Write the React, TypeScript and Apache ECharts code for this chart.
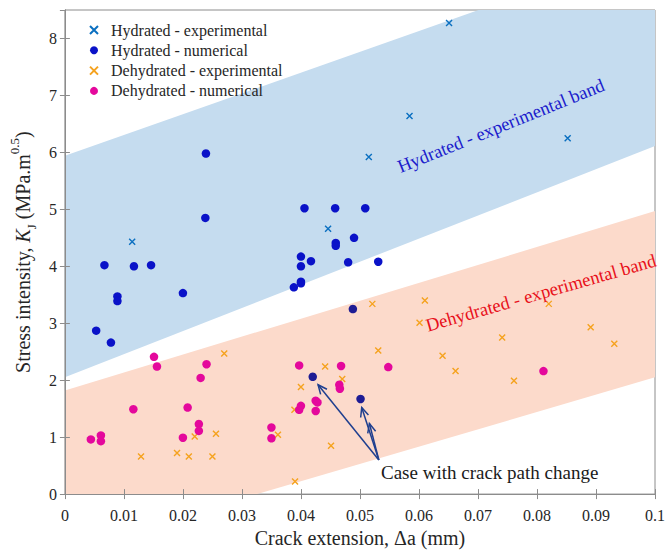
import React, { useEffect, useRef } from "react";
import * as echarts from "echarts";

const SERIF = "Liberation Serif";

const hydratedExperimental: number[][] = [
  [0.0114, 4.43], [0.0446, 4.66], [0.0515, 5.92], [0.0584, 6.64], [0.0651, 8.27], [0.0852, 6.25],
];

const hydratedNumerical: number[][] = [
  [0.0239, 5.98], [0.0238, 4.85], [0.0406, 5.02], [0.0458, 5.02], [0.0509, 5.02], [0.0490, 4.50],
  [0.0459, 4.41], [0.0459, 4.36], [0.0400, 4.17], [0.0417, 4.09], [0.0480, 4.07], [0.0531, 4.08],
  [0.0400, 4.00], [0.0400, 3.73], [0.0400, 3.70], [0.0388, 3.63], [0.0067, 4.02], [0.0117, 4.00],
  [0.0146, 4.02], [0.0089, 3.47], [0.0089, 3.39], [0.0200, 3.53], [0.0053, 2.87], [0.0078, 2.66],
];

const pathChangeCases: number[][] = [
  [0.0488, 3.25], [0.0420, 2.06], [0.0501, 1.67],
];

const dehydratedExperimental: number[][] = [
  [0.0270, 2.47], [0.0129, 0.66], [0.0190, 0.72], [0.0210, 0.66], [0.0220, 1.01], [0.0256, 1.06],
  [0.0250, 0.66], [0.0361, 1.04], [0.0390, 0.22], [0.0389, 1.48], [0.0400, 1.88], [0.0441, 2.24],
  [0.0451, 0.85], [0.0470, 2.02], [0.0521, 3.34], [0.0610, 3.40], [0.0601, 3.01], [0.0820, 3.34],
  [0.0891, 2.93], [0.0931, 2.64], [0.0741, 2.75], [0.0531, 2.52], [0.0640, 2.43], [0.0662, 2.16],
  [0.0761, 1.99],
];

const dehydratedNumerical: number[][] = [
  [0.0044, 0.96], [0.0061, 1.03], [0.0061, 0.93], [0.0116, 1.49], [0.0151, 2.41], [0.0156, 2.24],
  [0.0200, 0.99], [0.0208, 1.52], [0.0227, 1.23], [0.0227, 1.11], [0.0230, 2.04], [0.0240, 2.28],
  [0.0350, 1.17], [0.0350, 0.98], [0.0397, 2.26], [0.0397, 1.48], [0.0400, 1.55], [0.0425, 1.64],
  [0.0428, 1.61], [0.0425, 1.46], [0.0465, 1.92], [0.0466, 1.85], [0.0468, 2.25], [0.0548, 2.23],
  [0.0811, 2.16],
];

const hydratedBand: number[][] = [[0, 5.94], [0.0701, 8.5], [0.1, 8.5], [0.1, 6.11], [0, 2.05]];
const dehydratedBand: number[][] = [[0, 1.82], [0.1, 4.97], [0.1, 2.05], [0.0326, 0], [0, 0]];

const arrowStart = [0.0532, 0.60];
const arrowTargets: number[][] = [[0.0429, 1.92], [0.0503, 1.52], [0.0516, 1.24]];

const xTicks = [0, 0.01, 0.02, 0.03, 0.04, 0.05, 0.06, 0.07, 0.08, 0.09, 0.1];

const CROSS = "path://M0,0L10,10M10,0L0,10";

export default function App() {
  const ref = useRef<HTMLDivElement>(null);
  useEffect(() => {
    document.body.style.margin = "0";
    if (!ref.current) return;
    const chart = echarts.init(ref.current, undefined, { renderer: "svg" });
    const axisColor = "#8c8c8c";
    const labelColor = "#262626";
    const bandSeries = (name: string, pts: number[][], color: string) => ({
      name,
      type: "custom",
      silent: true,
      z: 0,
      data: [0],
      renderItem: (_p: any, api: any) => ({
        type: "polygon",
        shape: { points: pts.map((p) => api.coord(p)) },
        style: { fill: color },
      }),
    });
    const crossSeries = (name: string, data: number[][], color: string) => ({
      name,
      type: "scatter",
      data,
      symbol: CROSS,
      symbolSize: 6,
      z: 3,
      itemStyle: { color: "rgba(0,0,0,0)", borderColor: color, borderWidth: 1.4, opacity: 1 },
    });
    const dotSeries = (name: string, data: number[][], color: string) => ({
      name,
      type: "scatter",
      data,
      symbol: "circle",
      symbolSize: 8.5,
      z: 4,
      itemStyle: { color, opacity: 1 },
    });
    const arrowColor = "#1f3f8f";
    chart.setOption({
      animation: false,
      grid: {
        left: 63, right: 9, top: 10, bottom: 57,
        show: true, borderColor: axisColor, borderWidth: 1, backgroundColor: "transparent",
      },
      legend: {
        orient: "vertical",
        left: 84,
        top: 17,
        itemWidth: 8,
        itemHeight: 8,
        itemGap: 4.3,
        data: ["Hydrated - experimental", "Hydrated - numerical", "Dehydrated - experimental", "Dehydrated - numerical"],
        textStyle: { fontFamily: SERIF, fontSize: 16, color: labelColor, padding: [0, 0, 0, 8] },
      },
      xAxis: [
        {
          type: "value", min: 0, max: 0.1, interval: 0.01,
          name: "Crack extension, Δa (mm)",
          nameLocation: "middle", nameGap: 33,
          nameTextStyle: { fontFamily: SERIF, fontSize: 20, color: labelColor },
          axisLine: { show: true, lineStyle: { color: axisColor } },
          axisTick: { show: true, inside: true, length: 5, lineStyle: { color: axisColor } },
          axisLabel: {
            fontFamily: SERIF, fontSize: 16, color: labelColor, margin: 13,
            formatter: (v: number) => {
              const t = xTicks.find((x) => Math.abs(x - v) < 1e-9);
              return String(t !== undefined ? t : +v.toFixed(2));
            },
          },
          splitLine: { show: false },
        },
        {
          type: "value", min: 0, max: 0.1, interval: 0.01, position: "top",
          axisLine: { show: true, lineStyle: { color: axisColor } },
          axisTick: { show: true, inside: true, length: 5, lineStyle: { color: axisColor } },
          axisLabel: { show: false },
          splitLine: { show: false },
        },
      ],
      yAxis: [
        {
          type: "value", min: 0, max: 8.5, interval: 1,
          name: "{a|Stress intensity, }{i|K}{sub|J}{a| (MPa.m}{sup|0.5}{a|)}",
          nameLocation: "middle", nameGap: 22,
          nameTextStyle: {
            fontFamily: SERIF, fontSize: 20, color: labelColor,
            rich: {
              a: { fontFamily: SERIF, fontSize: 20, color: labelColor, lineHeight: 30, verticalAlign: "middle" },
              i: { fontFamily: SERIF, fontSize: 20, color: labelColor, fontStyle: "italic", lineHeight: 30, verticalAlign: "middle" },
              sub: { fontFamily: SERIF, fontSize: 13, color: labelColor, lineHeight: 13, verticalAlign: "bottom" },
              sup: { fontFamily: SERIF, fontSize: 13, color: labelColor, lineHeight: 13, verticalAlign: "top" },
            },
          },
          axisLine: { show: true, lineStyle: { color: axisColor } },
          axisTick: { show: true, inside: true, length: 5, lineStyle: { color: axisColor } },
          axisLabel: { fontFamily: SERIF, fontSize: 16, color: labelColor, margin: 8, showMaxLabel: false },
          splitLine: { show: false },
        },
        {
          type: "value", min: 0, max: 8.5, interval: 1, position: "right",
          axisLine: { show: true, lineStyle: { color: axisColor } },
          axisTick: { show: true, inside: true, length: 5, lineStyle: { color: axisColor } },
          axisLabel: { show: false },
          splitLine: { show: false },
        },
      ],
      graphic: [
        {
          type: "text", x: 501, y: 126, rotation: (22 * Math.PI) / 180, z: 10,
          style: {
            text: "Hydrated - experimental band", fill: "#1b1bcc",
            fontFamily: SERIF, fontSize: 18.5, textAlign: "center", textVerticalAlign: "middle",
          },
        },
        {
          type: "text", x: 541, y: 293, rotation: (16 * Math.PI) / 180, z: 10,
          style: {
            text: "Dehydrated - experimental band", fill: "#e8101a",
            fontFamily: SERIF, fontSize: 18.5, textAlign: "center", textVerticalAlign: "middle",
          },
        },
        {
          type: "text", x: 381, y: 472, z: 10,
          style: {
            text: "Case with crack path change", fill: "#1a1a1a",
            fontFamily: SERIF, fontSize: 19, textAlign: "left", textVerticalAlign: "middle",
          },
        },
      ],
      series: [
        bandSeries("hydratedBand", hydratedBand, "#c5dcef"),
        bandSeries("dehydratedBand", dehydratedBand, "#fcdacb"),
        crossSeries("Hydrated - experimental", hydratedExperimental, "#0a6fc0"),
        dotSeries("Hydrated - numerical", hydratedNumerical, "#0a12c8"),
        crossSeries("Dehydrated - experimental", dehydratedExperimental, "#f5a21e"),
        dotSeries("Dehydrated - numerical", dehydratedNumerical, "#e4089c"),
        dotSeries("pathChange", pathChangeCases, "#1e1c94"),
        {
          name: "arrows",
          type: "custom",
          silent: true,
          z: 5,
          data: arrowTargets,
          renderItem: (_p: any, api: any) => {
            const s = api.coord(arrowStart);
            const e = api.coord([api.value(0), api.value(1)]);
            const ang = Math.atan2(s[1] - e[1], s[0] - e[0]);
            const L = 10;
            const w = 0.42;
            const h1 = [e[0] + L * Math.cos(ang + w), e[1] + L * Math.sin(ang + w)];
            const h2 = [e[0] + L * Math.cos(ang - w), e[1] + L * Math.sin(ang - w)];
            return {
              type: "group",
              children: [
                {
                  type: "line",
                  shape: { x1: s[0], y1: s[1], x2: e[0], y2: e[1] },
                  style: { stroke: arrowColor, lineWidth: 1.5 },
                },
                {
                  type: "polyline",
                  shape: { points: [h1, e, h2] },
                  style: { stroke: arrowColor, lineWidth: 1.5, fill: "none" },
                },
              ],
            };
          },
        },
      ],
    });
    return () => chart.dispose();
  }, []);
  return <div ref={ref} style={{ width: 668, height: 553 }} />;
}
